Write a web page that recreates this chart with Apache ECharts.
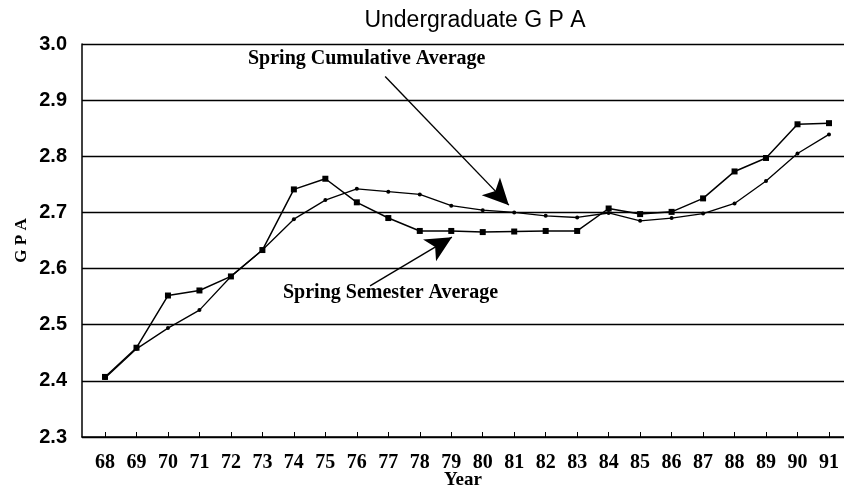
<!DOCTYPE html>
<html>
<head>
<meta charset="utf-8">
<script src="https://cdn.jsdelivr.net/npm/echarts@6/dist/echarts.min.js"></script>
<style>
html,body{margin:0;padding:0;background:#fff;}
#chart{width:844px;height:495px;}
</style>
</head>
<body>
<div id="chart"></div>
<script>
// ---- data ----
const years = [68,69,70,71,72,73,74,75,76,77,78,79,80,81,82,83,84,85,86,87,88,89,90,91];
const semesterAvg = [2.407,2.459,2.552,2.561,2.586,2.633,2.741,2.760,2.718,2.690,2.667,2.667,2.665,2.666,2.667,2.667,2.707,2.697,2.701,2.725,2.773,2.797,2.857,2.859];
const cumulativeAvg = [2.405,2.457,2.494,2.526,2.586,2.633,2.688,2.722,2.742,2.737,2.732,2.712,2.704,2.700,2.694,2.691,2.699,2.685,2.690,2.698,2.716,2.756,2.805,2.839];
const yTicks = ['2.3','2.4','2.5','2.6','2.7','2.8','2.9','3.0'];
const titleText = 'Undergraduate G P A';
const semesterLabel = 'Spring Semester Average';
const cumulativeLabel = 'Spring Cumulative Average';
// annotation arrows in data coordinates [year, gpa]
const cumArrow = [[76.90, 2.942], [80.83, 2.713]];
const semArrow = [[76.42, 2.569], [79.02, 2.656]];

const serif = '"Liberation Serif","Times New Roman",serif';
const sans = '"Liberation Sans",Arial,sans-serif';

const chart = echarts.init(document.getElementById('chart'), null, {renderer:'canvas'});
const pairs = arr => years.map((y,i)=>[y, arr[i]]);

const arrowLine = (pts) => ({
  silent: true,
  symbol: ['none','arrow'],
  symbolSize: [19, 26],
  lineStyle: {color:'#000', width:1.4, type:'solid'},
  label: {show:false},
  data: [[{coord: pts[0]}, {coord: pts[1]}]]
});

chart.setOption({
  animation: false,
  backgroundColor: '#fff',
  title: {
    text: titleText, left: 470, top: 4, textAlign: 'center',
    textStyle: {fontFamily: sans, fontSize: 23, fontWeight: 'normal', color: '#000'}
  },
  grid: {left: 82, right: 0, top: 44, bottom: 58, containLabel: false, outerBoundsMode: 'none'},
  xAxis: {
    type: 'value', min: 67.269, max: 91.477, splitNumber: 24,
    name: 'Year', nameLocation: 'middle', nameGap: 34, nameMoveOverlap: false,
    nameTextStyle: {fontFamily: serif, fontSize: 19, fontWeight: 'bold', color: '#000'},
    axisLine: {show: true, lineStyle: {color: '#000', width: 1.5}},
    axisTick: {show: true, inside: true, length: 5, lineStyle: {color: '#000', width: 1}, customValues: years},
    axisLabel: {fontFamily: serif, fontSize: 20, fontWeight: 'bold', color: '#000', margin: 16, customValues: years,
      formatter: v => Number.isInteger(v) ? String(v) : ''},
    splitLine: {show: false}
  },
  yAxis: {
    type: 'value', min: 2.3, max: 3.0, interval: 0.1,
    name: 'G P A', nameLocation: 'middle', nameGap: 52, nameRotate: 90, nameMoveOverlap: false,
    nameTextStyle: {fontFamily: serif, fontSize: 17, fontWeight: 'bold', color: '#000'},
    axisLine: {show: true, lineStyle: {color: '#000', width: 1.5}},
    axisTick: {show: false},
    axisLabel: {fontFamily: sans, fontSize: 20, fontWeight: 'bold', color: '#000', margin: 15,
      formatter: v => yTicks[Math.round((v - 2.3) * 10)] || ''},
    splitLine: {show: true, lineStyle: {color: '#000', width: 1.3}}
  },
  graphic: [
    {type: 'text', left: 248, top: 49, style: {text: cumulativeLabel, font: 'bold 20px ' + serif, fill: '#000'}},
    {type: 'text', left: 283, top: 283, style: {text: semesterLabel, font: 'bold 20px ' + serif, fill: '#000'}}
  ],
  series: [
    {
      name: semesterLabel, type: 'line', data: pairs(semesterAvg),
      symbol: 'rect', symbolSize: 6, showSymbol: true,
      lineStyle: {color: '#000', width: 1.5}, itemStyle: {color: '#000'},
      markLine: arrowLine(semArrow)
    },
    {
      name: cumulativeLabel, type: 'line', data: pairs(cumulativeAvg),
      symbol: 'circle', symbolSize: 4, showSymbol: true,
      lineStyle: {color: '#000', width: 1.3}, itemStyle: {color: '#000'},
      markLine: arrowLine(cumArrow)
    }
  ]
});
</script>
</body>
</html>
